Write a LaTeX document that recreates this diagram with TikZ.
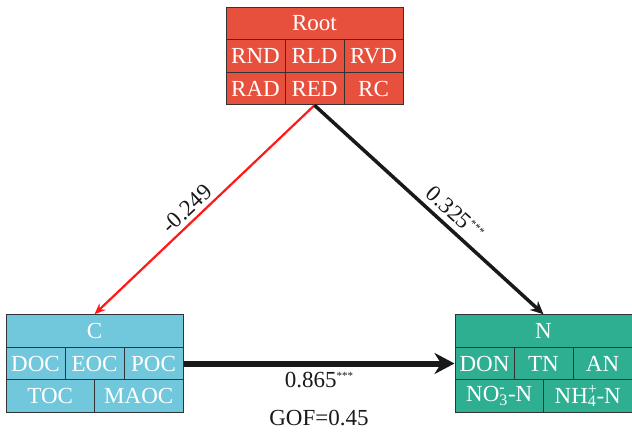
\documentclass[tikz,border=0pt]{standalone}
\usepackage{fontspec}
\setmainfont{Liberation Serif}
\usetikzlibrary{arrows.meta, positioning}
\definecolor{rootcol}{HTML}{E8503E}
\definecolor{ccol}{HTML}{71C8DC}
\definecolor{ncol}{HTML}{2EAF92}
\newcommand{\stars}{\raisebox{0.75ex}{\fontsize{11}{11}\selectfont ***}}
\tikzset{
  cell/.style={draw=black!80, line width=1pt, text=white, inner sep=0pt,
    minimum height=32.5pt, font=\fontsize{23}{23}\selectfont},
  wide/.style={cell, minimum width=177pt},
  third/.style={cell, minimum width=59pt},
  half/.style={cell, minimum width=88.5pt},
  coef/.style={font=\fontsize{23}{23}\selectfont, text=black!90}
}
\begin{document}
\begin{tikzpicture}[x=1pt, y=-1pt]
		\useasboundingbox (0,0) rectangle (632,433);
		%Boite Root
		\node[wide, fill=rootcol] (root) at (314.5,23.5) {Root};
		\node[third, fill=rootcol] (rnd) at (255.5,56) {RND};
		\node[third, fill=rootcol] (rld) at (314.5,56) {RLD};
		\node[third, fill=rootcol] (rvd) at (373.5,56) {RVD};
		\node[third, fill=rootcol] (rad) at (255.5,88.5) {RAD};
		\node[third, fill=rootcol] (red) at (314.5,88.5) {RED};
		\node[third, fill=rootcol] (rc) at (373.5,88.5) {RC};
		%Boite C
		\node[wide, fill=ccol] (c) at (94.5,331) {C};
		\node[third, fill=ccol] (doc) at (35.5,363.5) {DOC};
		\node[third, fill=ccol] (eoc) at (94.5,363.5) {EOC};
		\node[third, fill=ccol] (poc) at (153.5,363.5) {POC};
		\node[half, fill=ccol] (toc) at (50.25,396) {TOC};
		\node[half, fill=ccol] (maoc) at (138.75,396) {MAOC};
		%Boite N
		\node[wide, fill=ncol] (n) at (543.5,331) {N};
		\node[third, fill=ncol] (don) at (484.5,363.5) {DON};
		\node[third, fill=ncol] (tn) at (543.5,363.5) {TN};
		\node[third, fill=ncol] (an) at (602.5,363.5) {AN};
		\node[half, fill=ncol] (no) at (499.25,396) {NO\rlap{\textsuperscript{-}}\textsubscript{3}-N};
		\node[half, fill=ncol] (nh) at (587.75,396) {NH\rlap{\textsuperscript{+}}\textsubscript{4}-N};
		%Chemins
		\draw[draw=red!90, line width=2.2pt, -{Stealth[length=11pt, width=9pt]}] (red.south) -- (c.north);
		\draw[black!90, line width=3.5pt, -{Stealth[length=13pt, width=12pt]}] (red.south) -- (n.north);
		\draw[black!90, line width=6pt, -{Stealth[length=20pt, width=21pt]}] (poc.east) -- (don.west);
		%Coefficients
		\path (c.north) -- (red.south) node[coef, pos=.46, sloped, above, inner sep=5pt] {-0.249};
		\path (red.south) -- (n.north) node[coef, pos=.57, sloped, above, inner sep=7pt] {0.325\stars};
		\path (poc.east) -- (don.west) node[coef, midway, below=5pt] (b) {0.865\stars};
		\node[coef, below=15pt of b] (gof) {GOF=0.45};
		\end{tikzpicture}
\end{document}
